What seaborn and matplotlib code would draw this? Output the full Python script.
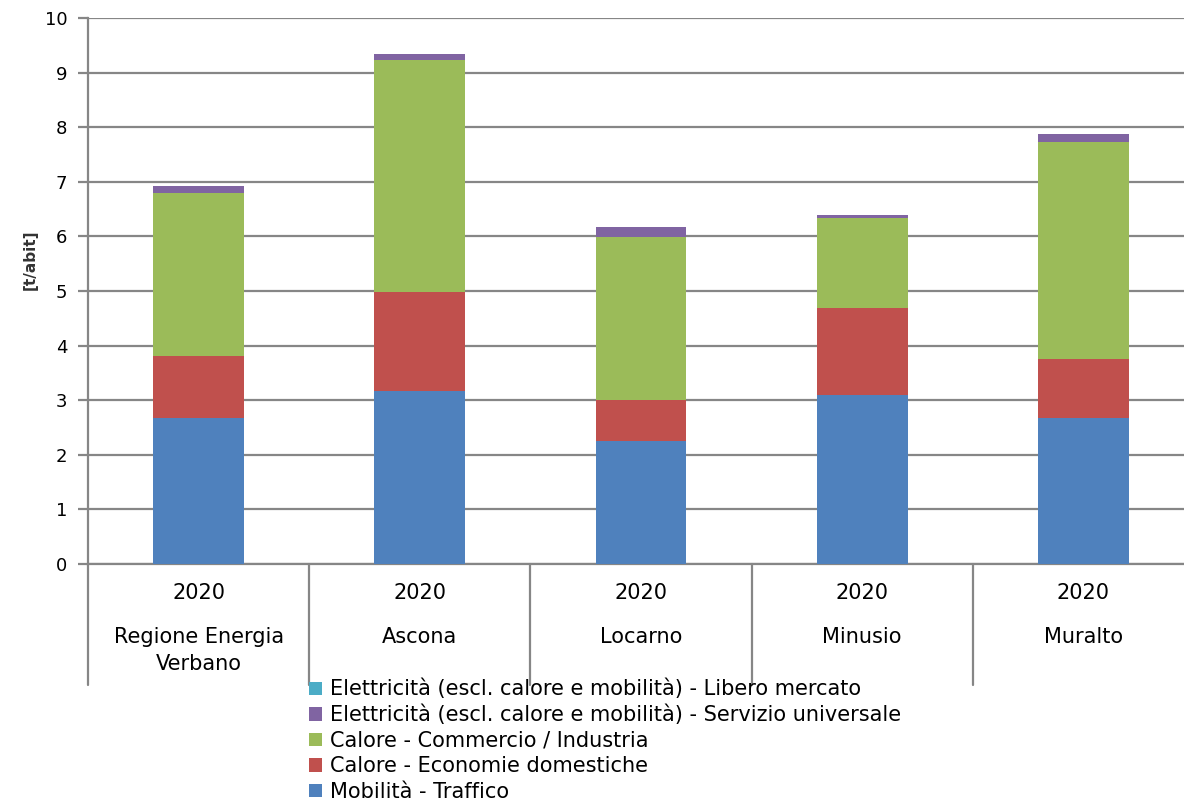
import matplotlib
matplotlib.use("Agg")
import matplotlib.pyplot as plt
import matplotlib.transforms as mtransforms
from matplotlib.patches import Patch
import numpy as np
import pandas as pd
import seaborn as sns

# ---- data ----
categories = ["Regione Energia\nVerbano", "Ascona", "Locarno", "Minusio", "Muralto"]
year_labels = ["2020", "2020", "2020", "2020", "2020"]
mobilita_traffico = [2.67, 3.17, 2.25, 3.10, 2.67]
calore_domestiche = [1.14, 1.81, 0.75, 1.59, 1.08]
calore_commercio = [2.99, 4.25, 2.99, 1.65, 3.98]
elettr_servizio = [0.12, 0.11, 0.18, 0.05, 0.15]
elettr_libero = [0.0, 0.0, 0.0, 0.0, 0.0]

series_names = [
    "Mobilità - Traffico",
    "Calore - Economie domestiche",
    "Calore - Commercio / Industria",
    "Elettricità (escl. calore e mobilità) - Servizio universale",
    "Elettricità (escl. calore e mobilità) - Libero mercato",
]
series_values = [mobilita_traffico, calore_domestiche, calore_commercio,
                 elettr_servizio, elettr_libero]
colors = ["#4F81BD", "#C0504D", "#9BBB59", "#8064A2", "#4BACC6"]
y_label = "[t/abit]"

sns.set_style("white")
plt.rcParams["font.family"] = ["DejaVu Sans"]
plt.rcParams["text.color"] = "black"
plt.rcParams["ytick.labelcolor"] = "black"

fig = plt.figure(figsize=(11.84, 8.0), dpi=100)
ax = fig.add_axes([88 / 1184, 1 - 564 / 800, (1194 - 88) / 1184, (564 - 18) / 800])

# cumulative stacks, draw largest first
cum = np.cumsum(np.array(series_values), axis=0)
keys = [str(i) for i in range(len(categories))]
for i in range(len(series_names) - 1, -1, -1):
    df = pd.DataFrame({"cat": keys, "val": cum[i]})
    sns.barplot(data=df, x="cat", y="val", color=colors[i], width=0.41,
                saturation=1, ax=ax, linewidth=0, zorder=3)

ax.set_ylim(0, 10)
ax.set_xlim(-0.5, len(categories) - 0.5)
ax.set_yticks(range(0, 11))
ax.tick_params(axis="y", labelsize=13, length=7, width=1.6, color="#868686",
               pad=8, left=True)
ax.set_xticks([])
ax.set_xlabel("")
ax.set_ylabel("")
fig.text(30 / 1184, 1 - 260 / 800, y_label, rotation=90, ha="center", va="center",
         fontsize=11, fontweight="bold", color="#333333")
ax.yaxis.grid(True, color="#868686", linewidth=1.6)
ax.set_axisbelow(True)
for s in ["top", "right"]:
    ax.spines[s].set_visible(False)
for s in ["left", "bottom"]:
    ax.spines[s].set_color("#868686")
    ax.spines[s].set_linewidth(1.6)

trans = mtransforms.blended_transform_factory(ax.transData, ax.transAxes)
# category separators below the axis
for b in np.arange(-0.5, len(categories), 1.0):
    ax.plot([b, b], [0, -0.222], color="#868686", lw=1.6, transform=trans,
            clip_on=False)
for i, (yr, name) in enumerate(zip(year_labels, categories)):
    ax.text(i, -0.053, yr, transform=trans, ha="center", va="center", fontsize=15)
    ax.text(i, -0.115, name, transform=trans, ha="center", va="top", fontsize=15,
            linespacing=1.45)

# legend (top of stack first)
handles = [Patch(facecolor=colors[i], edgecolor="none") for i in range(len(colors) - 1, -1, -1)]
labels = [series_names[i] for i in range(len(series_names) - 1, -1, -1)]
fig.legend(handles, labels, loc="upper left", bbox_to_anchor=(309 / 1184, 1 - 679 / 800),
           frameon=False, fontsize=15, handlelength=0.6, handleheight=0.6,
           handletextpad=0.4, labelspacing=0.26, borderpad=0, borderaxespad=0)

fig.savefig("out.png", dpi=100)
